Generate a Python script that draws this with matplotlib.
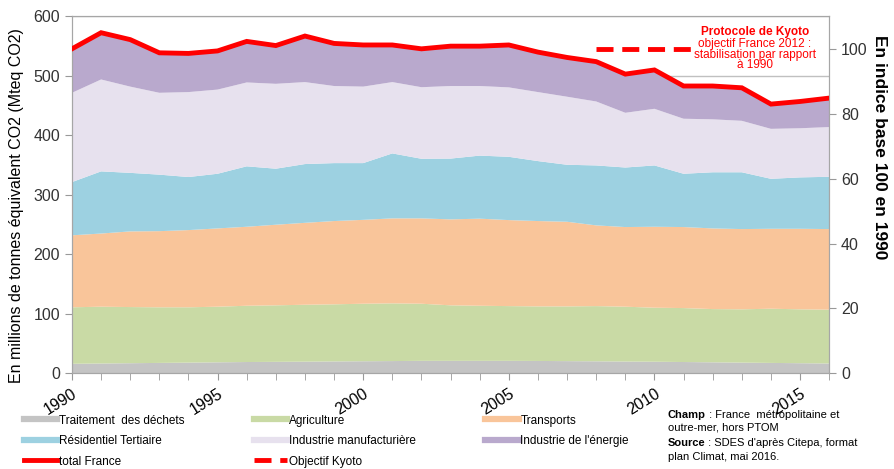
import matplotlib.pyplot as plt
from matplotlib.lines import Line2D
import numpy as np

plt.rcParams['font.family'] = ['Liberation Sans', 'DejaVu Sans']

# emissions par secteur, Mteq CO2
years = list(range(1990, 2017))
dechets = [16, 16.5, 17, 17.5, 18, 18.5, 19, 19.3, 19.6, 20, 20.3, 20.6, 21, 21,
           21, 21, 20.8, 20.5, 20.2, 19.8, 19.5, 19, 18.5, 18, 17.5, 17, 16.5]
agriculture = [95, 95.5, 94.4, 93.5, 93, 93.5, 94.6, 95, 95.7, 96, 96.7, 97, 96, 93.3,
               92.6, 92, 91.7, 92, 92.8, 92.2, 90.8, 90.7, 89.5, 89.6, 91.1, 90.6, 90.5]
transports = [121, 123, 127.2, 128, 129.8, 131.6, 132.8, 135.5, 137.7, 140, 141, 142.9,
              143.5, 144.5, 146.4, 144.6, 143.5, 142.3, 135.7, 133.9, 136.1, 136.2,
              135.6, 134.9, 134.4, 135.4, 135.5]
residentiel = [89.5, 104.5, 98.4, 95, 89.2, 91.9, 101.6, 94.2, 98.8, 97.4, 95.4, 109.2,
               100.2, 102.2, 106, 106.4, 100.8, 95.8, 100.8, 100.1, 103.1, 89.6, 94.4,
               95.5, 84, 86.4, 87.9]
manufacturiere = [150.1, 154.5, 145, 137.6, 142.8, 141.5, 141, 142.7, 137.8, 129.6,
                  128.6, 119.9, 120.3, 122, 117, 116.7, 116, 114.4, 107.5, 92, 95.2,
                  92.5, 89, 86.5, 84, 82.6, 83.6]
energie = [73.9, 78.6, 79, 67.2, 65, 65, 69, 64.3, 77.4, 71.6, 70, 62.4, 64.5, 67, 67,
           71.3, 67.2, 66, 67, 65, 65.3, 55, 56, 55.5, 41.6, 45, 48.7]

kyoto_years = [2008, 2012]
kyoto_index = [100, 100]

labels = ['Traitement  des déchets', 'Agriculture', 'Transports',
          'Résidentiel Tertiaire', 'Industrie manufacturière', "Industrie de l'énergie"]
colors = ['#c4c4c4', '#c9daa5', '#f9c59a', '#9dd1e1', '#e7e1ee', '#b9a9cd']
xtick_years = [1990, 1995, 2000, 2005, 2010, 2015]

series = [dechets, agriculture, transports, residentiel, manufacturiere, energie]
total = np.sum(series, axis=0)
indice = total / total[0] * 100

fig = plt.figure(figsize=(8.94, 4.69), dpi=100)
ax = fig.add_axes([0.0805, 0.204, 0.847, 0.761])

ax.stackplot(years, *series, colors=colors, labels=labels, zorder=2)
ax.set_xlim(1990, 2016)
ax.set_ylim(0, 600)
ax.set_yticks(range(0, 601, 100))
ax.grid(axis='y', color='#c0c0c0', lw=1)
ax.set_axisbelow(True)

ax.set_xticks(xtick_years)
ax.set_xticks(years, minor=True)
ax.set_xticklabels([str(y) for y in xtick_years], rotation=32, ha='right',
                   va='top', rotation_mode='anchor', fontsize=11.5)
ax.tick_params(axis='x', which='both', direction='out', length=5, color='#999999', pad=4)
ax.tick_params(axis='y', direction='out', length=5, color='#999999', labelsize=11.5,
               labelcolor='#333333')
for s in ax.spines.values():
    s.set_color('#a6a6a6')
ax.set_ylabel('En millions de tonnes équivalent CO2 (Mteq CO2)', fontsize=11.5,
              va='center', ha='center')
ax.yaxis.set_label_coords(-0.073, 0.47)

ax2 = ax.twinx()
ax2.set_ylim(0, 600 / total[0] * 100)
ax2.set_yticks(range(0, 101, 20))
ax2.tick_params(axis='y', direction='out', length=5, color='#999999', labelsize=11.5,
                labelcolor='#333333')
for s in ax2.spines.values():
    s.set_color('#a6a6a6')
ax2.set_ylabel('En indice base 100 en 1990', fontsize=12.5, fontweight='bold',
               rotation=270, va='center', ha='center')
ax2.yaxis.set_label_coords(1.067, 0.633)

ax2.plot(years, indice, color='#ff0000', lw=3.5, solid_joinstyle='miter', zorder=3)
ax2.plot(kyoto_years, kyoto_index, color='#ff0000', lw=3.5, dashes=(3.5, 1.8),
         dash_capstyle='butt', zorder=3)

# annotation Kyoto
kx = 2013.45
ax2.text(kx, 105.1, 'Protocole de Kyoto', color='#ff0000', fontsize=8.5,
         fontweight='bold', ha='center', va='center', zorder=6)
ax2.text(kx, 98.2, 'objectif France 2012 :\nstabilisation par rapport\nà 1990',
         color='#ff0000', fontsize=8.5, ha='center', va='center', linespacing=0.8,
         bbox=dict(facecolor='white', edgecolor='none', pad=0.3), zorder=5)

# legende
handles = [Line2D([], [], color=c, lw=4.5) for c in colors]
h_total = Line2D([], [], color='#ff0000', lw=3.5)
h_kyoto = Line2D([], [], color='#ff0000', lw=3.5, dashes=(3.5, 1.8))
order_h = [handles[0], handles[3], h_total, handles[1], handles[4], h_kyoto,
           handles[2], handles[5]]
order_l = [labels[0], labels[3], 'total France', labels[1], labels[4], 'Objectif Kyoto',
           labels[2], labels[5]]
fig.legend(order_h, order_l, loc='upper left', bbox_to_anchor=(0.027, 0.116), ncol=3,
           frameon=False, fontsize=8.5, handlelength=2.8, handletextpad=0.15,
           columnspacing=5.9, labelspacing=0.72, borderpad=0, borderaxespad=0)

# source
t1 = fig.text(0.747, 0.108, 'Champ', fontsize=8, fontweight='bold', va='baseline')
fig.text(0.747, 0.083, 'outre-mer, hors PTOM', fontsize=8, va='baseline')
t2 = fig.text(0.747, 0.050, 'Source', fontsize=8, fontweight='bold', va='baseline')
fig.text(0.747, 0.020, 'plan Climat, mai 2016.', fontsize=8, va='baseline')
ax.annotate(' : France  métropolitaine et', xy=(1, 0), xycoords=t1, fontsize=8,
            va='bottom', annotation_clip=False)
ax.annotate(" : SDES d'après Citepa, format", xy=(1, 0), xycoords=t2, fontsize=8,
            va='bottom', annotation_clip=False)

fig.savefig('out.png', dpi=100)
